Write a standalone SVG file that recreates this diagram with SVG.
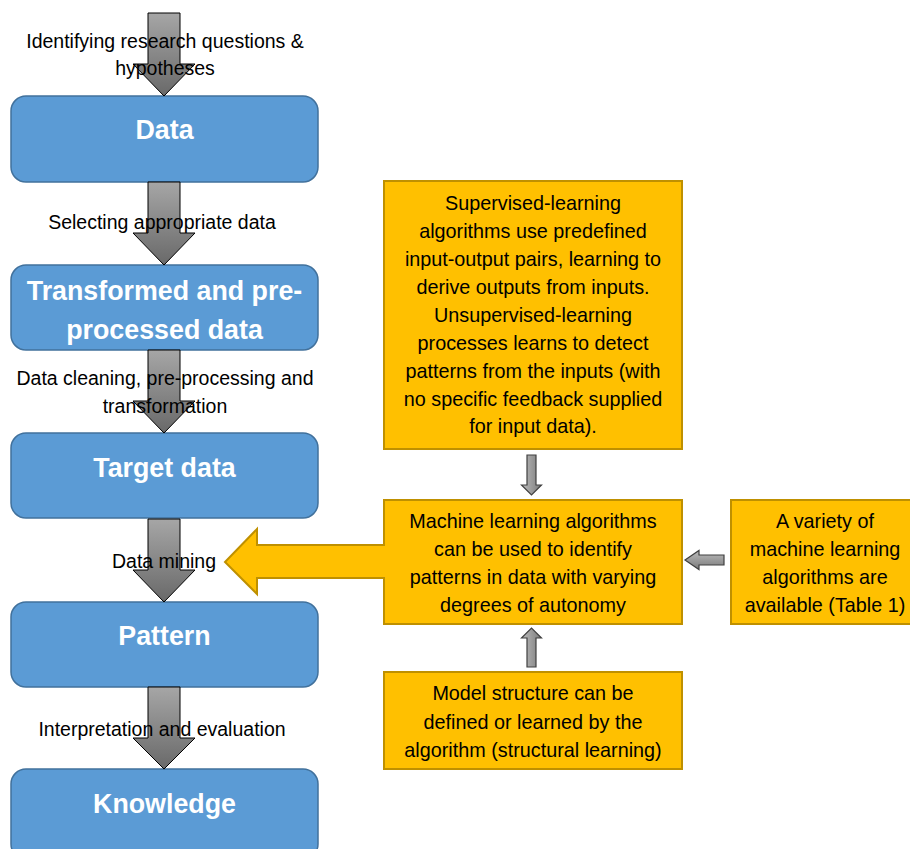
<svg xmlns="http://www.w3.org/2000/svg" width="910" height="849" viewBox="0 0 910 849">
<defs>
<linearGradient id="gBig" x1="0" y1="0" x2="0" y2="1">
<stop offset="0" stop-color="#a6a6a6"/>
<stop offset="1" stop-color="#696969"/>
</linearGradient>
<linearGradient id="gV" x1="0" y1="0" x2="1" y2="0">
<stop offset="0" stop-color="#bdbdbd"/>
<stop offset="1" stop-color="#7a7a7a"/>
</linearGradient>
<linearGradient id="gH" x1="0" y1="0" x2="0" y2="1">
<stop offset="0" stop-color="#bdbdbd"/>
<stop offset="1" stop-color="#7a7a7a"/>
</linearGradient>
</defs>
<style>
.blue{fill:#5b9bd5;stroke:#41719c;stroke-width:1.5}
.yel{fill:#ffc000;stroke:#bf9000;stroke-width:2}
.big{fill:url(#gBig);stroke:#000;stroke-width:1}
.sv{fill:url(#gV);stroke:#404040;stroke-width:1.2}
.sh{fill:url(#gH);stroke:#404040;stroke-width:1.2}
.title{font-family:"Liberation Sans",Arial,sans-serif;font-weight:bold;font-size:26.8px;fill:#fff;text-anchor:middle}
.lbl{font-family:"Liberation Sans",Arial,sans-serif;font-size:19.5px;fill:#000;text-anchor:middle}
.ytx{font-family:"Liberation Sans",Arial,sans-serif;font-size:19.8px;fill:#000;text-anchor:middle}
</style>
<rect width="910" height="849" fill="#fff"/>

<g id="node-data"><rect class="blue" x="11" y="96" width="307" height="86" rx="15"/><text class="title" x="164.5" y="139">Data</text></g>
<g id="node-transformed"><rect class="blue" x="11" y="265" width="307" height="85" rx="15"/><text class="title" x="164.5" y="300">Transformed and pre-</text><text class="title" x="164.5" y="339">processed data</text></g>
<g id="node-target"><rect class="blue" x="11" y="433" width="307" height="85" rx="15"/><text class="title" x="164.5" y="477">Target data</text></g>
<g id="node-pattern"><rect class="blue" x="11" y="602" width="307" height="85" rx="15"/><text class="title" x="164.5" y="645">Pattern</text></g>
<g id="node-knowledge"><rect class="blue" x="11" y="769" width="307" height="90" rx="15"/><text class="title" x="164.5" y="813">Knowledge</text></g>

<g id="node-supervised"><rect class="yel" x="384" y="181" width="298" height="268"/>
<text class="ytx" x="533" y="210">Supervised-learning</text>
<text class="ytx" x="533" y="238">algorithms use predefined</text>
<text class="ytx" x="533" y="266">input-output pairs, learning to</text>
<text class="ytx" x="533" y="294">derive outputs from inputs.</text>
<text class="ytx" x="533" y="322">Unsupervised-learning</text>
<text class="ytx" x="533" y="350">processes learns to detect</text>
<text class="ytx" x="533" y="378">patterns from the inputs (with</text>
<text class="ytx" x="533" y="406">no specific feedback supplied</text>
<text class="ytx" x="533" y="433">for input data).</text>
</g>
<g id="node-ml"><rect class="yel" x="384" y="500" width="298" height="124"/>
<text class="ytx" x="533" y="528">Machine learning algorithms</text>
<text class="ytx" x="533" y="556">can be used to identify</text>
<text class="ytx" x="533" y="584">patterns in data with varying</text>
<text class="ytx" x="533" y="612">degrees of autonomy</text>
</g>
<g id="node-variety"><rect class="yel" x="731" y="500" width="190" height="124"/>
<text class="ytx" x="825" y="528">A variety of</text>
<text class="ytx" x="825" y="556">machine learning</text>
<text class="ytx" x="825" y="584">algorithms are</text>
<text class="ytx" x="825" y="612">available (Table 1)</text>
</g>
<g id="node-model"><rect class="yel" x="384" y="672" width="298" height="97"/>
<text class="ytx" x="533" y="700">Model structure can be</text>
<text class="ytx" x="533" y="729">defined or learned by the</text>
<text class="ytx" x="533" y="757">algorithm (structural learning)</text>
</g>

<g id="connectors">
<path class="big" d="M148,13 H180 V64 H195 L164,96 L133,64 H148 Z"/>
<path class="big" d="M148,182 H180 V233 H195 L164,265 L133,233 H148 Z"/>
<path class="big" d="M148,350 H180 V401 H195 L164,433 L133,401 H148 Z"/>
<path class="big" d="M148,519 H180 V570 H195 L164,602 L133,570 H148 Z"/>
<path class="big" d="M148,687 H180 V738 H195 L164,769 L133,738 H148 Z"/>
<path d="M388,545 H257 V529 L225,562 L257,594 V578 H388 Z" fill="#ffc000"/>
<path d="M385,545 H257 V529 L225,562 L257,594 V578 H385" fill="none" stroke="#bf9000" stroke-width="2" stroke-linejoin="miter"/>
<path class="sv" d="M527,455 H536 V485 H541.5 L531.5,495 L521.5,485 H527 Z"/>
<path class="sv" d="M527,667 H536 V638 H541.5 L531.5,628 L521.5,638 H527 Z"/>
<path class="sh" d="M724,555 V565 H699 V569.5 L685,560 L699,550.5 V555 Z"/>
<text class="lbl" x="165" y="48">Identifying research questions &amp;</text>
<text class="lbl" x="165" y="75">hypotheses</text>
<text class="lbl" x="162" y="229">Selecting appropriate data</text>
<text class="lbl" x="165" y="385">Data cleaning, pre-processing and</text>
<text class="lbl" x="165" y="413">transformation</text>
<text class="lbl" x="164" y="568">Data mining</text>
<text class="lbl" x="162" y="736">Interpretation and evaluation</text>
</g>
</svg>
